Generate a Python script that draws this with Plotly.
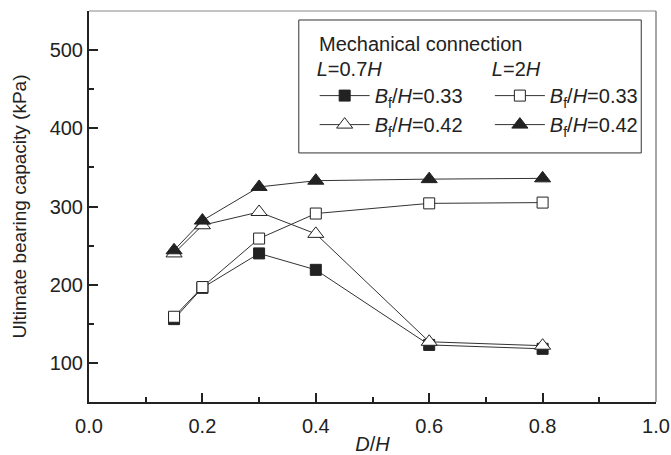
import plotly.graph_objects as go

d_over_h = [0.15, 0.2, 0.3, 0.4, 0.6, 0.8]
l07_bf033 = [156, 196, 240, 219, 123, 118]
l2_bf033 = [159, 197, 259, 291, 304, 305]
l07_bf042 = [240, 276, 293, 265, 127, 122]
l2_bf042 = [244, 282, 325, 333, 335, 336]

x_ticks = [0.0, 0.2, 0.4, 0.6, 0.8, 1.0]
y_ticks = [100, 200, 300, 400, 500]

INK = "#222222"
FONT = "Liberation Sans, Arial, sans-serif"
FS = 20
lbl033 = "<i>B</i><sub>f</sub>/<i>H</i>=0.33"
lbl042 = "<i>B</i><sub>f</sub>/<i>H</i>=0.42"

fig = go.Figure()

def add(y, symbol, fill, name, legend, size):
    fig.add_trace(go.Scatter(
        x=d_over_h, y=y, mode="lines+markers", name=name, legend=legend,
        line=dict(color="#333333", width=1),
        marker=dict(symbol=symbol, size=size, color=fill,
                    line=dict(color=INK, width=1)),
    ))

add(l07_bf033, "square", INK, lbl033, "legend", 11)
add(l07_bf042, "triangle-up", "white", lbl042, "legend", 14)
add(l2_bf033, "square", "white", lbl033, "legend2", 11)
add(l2_bf042, "triangle-up", INK, lbl042, "legend2", 14)

leg_common = dict(
    bgcolor="rgba(0,0,0,0)", borderwidth=0, font=dict(family=FONT, size=FS, color=INK),
    xanchor="left", yanchor="top", itemwidth=50, tracegroupgap=0,
)
fig.update_layout(
    legend=dict(x=0.398, y=0.9, title=dict(text="<i>L</i>=0.7<i>H</i>",
                                            font=dict(family=FONT, size=FS, color=INK)),
                **leg_common),
    legend2=dict(x=0.707, y=0.9, title=dict(text="<i>L</i>=2<i>H</i>",
                                             font=dict(family=FONT, size=FS, color=INK)),
                 **leg_common),
)

fig.add_shape(type="rect", xref="paper", yref="paper", x0=0.370, x1=0.974, y0=0.637, y1=0.977,
              line=dict(color="#333333", width=1), fillcolor="rgba(0,0,0,0)")
fig.add_annotation(text="Mechanical connection", xref="paper", yref="paper", x=0.402, y=0.915,
                   xanchor="left", yanchor="middle", showarrow=False,
                   font=dict(family=FONT, size=FS, color=INK))

# top and right frame lines (lighter)
fig.add_shape(type="line", xref="paper", yref="paper", x0=0, x1=1, y0=1, y1=1,
              line=dict(color="#888888", width=1))
fig.add_shape(type="line", xref="paper", yref="paper", x0=1, x1=1, y0=0, y1=1,
              line=dict(color="#888888", width=1.5))

fig.update_xaxes(
    range=[0, 1], tickvals=x_ticks, ticktext=[f"{v:.1f}" for v in x_ticks],
    showgrid=False, zeroline=False, showline=True, linecolor=INK, linewidth=2,
    ticks="inside", ticklen=9, tickwidth=1.5, tickcolor=INK, ticklabelstandoff=5,
    minor=dict(ticks="inside", ticklen=5, tickwidth=1.5, tickcolor=INK, dtick=0.1, showgrid=False),
    tickfont=dict(family=FONT, size=FS, color=INK),
    title=dict(text="<i>D</i>/<i>H</i>", font=dict(family=FONT, size=FS, color=INK), standoff=3),
)
fig.update_yaxes(
    range=[50, 550], tickvals=y_ticks,
    showgrid=False, zeroline=False, showline=True, linecolor=INK, linewidth=2,
    ticks="inside", ticklen=9, tickwidth=1.5, tickcolor=INK,
    minor=dict(ticks="inside", ticklen=5, tickwidth=1.5, tickcolor=INK, dtick=50, showgrid=False),
    tickfont=dict(family=FONT, size=FS, color=INK),
    title=dict(text="Ultimate bearing capacity (kPa)", font=dict(family=FONT, size=19, color=INK),
               standoff=18),
)

fig.update_layout(
    width=671, height=455, margin=dict(l=89, r=15, t=11, b=53, autoexpand=False),
    paper_bgcolor="white", plot_bgcolor="white", showlegend=True,
    font=dict(family=FONT, size=FS, color=INK),
)

fig.write_html("out.html")
